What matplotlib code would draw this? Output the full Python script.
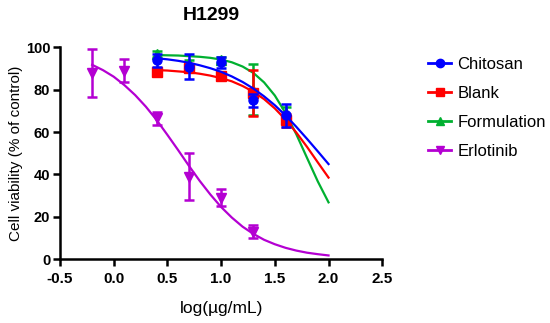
import matplotlib
matplotlib.use("Agg")
import matplotlib.pyplot as plt

plt.rcParams['font.family'] = ['Liberation Sans', 'DejaVu Sans']

# measured points
x_main = [0.4, 0.7, 1.0, 1.3, 1.6]
chitosan_y = [94, 91, 93, 75, 68]
chitosan_err = [3, 6, 2.5, 3, 5.5]
blank_y = [88.5, 90.5, 86.5, 78.5, 65.5]
blank_err = [1.5, 1.5, 1.5, 11, 3]
formulation_y = [97, 92.5, 94, 80, 69]
formulation_err = [1.5, 1.5, 1.5, 12, 3]

x_erl = [-0.2, 0.1, 0.4, 0.7, 1.0, 1.3]
erl_y = [88, 89, 66.5, 39, 29, 13]
erl_err = [11.5, 5.5, 3, 11, 4, 3]

# fitted curves
curve_x = [0.4, 0.5, 0.6, 0.7, 0.8, 0.9, 1.0, 1.1, 1.2, 1.3, 1.4, 1.5, 1.6, 1.7, 1.8, 1.9, 2.0]
chitosan_fit = [94.9, 94.4, 93.7, 92.8, 91.6, 90.2, 88.5, 86.3, 83.7, 80.6, 76.9, 72.7, 67.9, 62.5, 56.8, 50.9, 44.9]
blank_fit = [89.3, 89.1, 88.7, 88.3, 87.6, 86.7, 85.5, 84.0, 81.8, 79.1, 75.6, 71.2, 65.9, 59.8, 53.0, 45.7, 38.5]
formulation_fit = [96.4, 96.3, 96.2, 95.9, 95.6, 95.1, 94.3, 93.0, 91.0, 88.0, 83.5, 77.3, 69.0, 59.0, 47.8, 36.7, 26.8]
erl_curve_x = [-0.2, -0.1, 0.0, 0.1, 0.2, 0.3, 0.4, 0.5, 0.6, 0.7, 0.8, 0.9, 1.0, 1.1, 1.2, 1.3,
               1.4, 1.5, 1.6, 1.7, 1.8, 1.9, 2.0]
erl_fit = [91.8, 89.3, 86.2, 82.2, 77.5, 72.0, 65.7, 58.7, 51.5, 44.1, 37.0, 30.5, 24.6, 19.6, 15.3, 11.9,
           9.1, 7.0, 5.3, 4.0, 3.0, 2.3, 1.7]

x_ticks = [-0.5, 0.0, 0.5, 1.0, 1.5, 2.0, 2.5]
y_ticks = [0, 20, 40, 60, 80, 100]

fig = plt.figure(figsize=(5.5, 3.23), dpi=100)
ax = fig.add_axes([0.109, 0.198, 0.586, 0.655])

series = [
    ("Chitosan", "#0000ff", "o", x_main, chitosan_y, chitosan_err, curve_x, chitosan_fit, 5),
    ("Blank", "#ff0000", "s", x_main, blank_y, blank_err, curve_x, blank_fit, 4),
    ("Formulation", "#00b030", "^", x_main, formulation_y, formulation_err, curve_x, formulation_fit, 3),
    ("Erlotinib", "#b400d2", "v", x_erl, erl_y, erl_err, erl_curve_x, erl_fit, 2),
]
handles = []
for name, col, mk, xs, ys, es, cx, cy, z in series:
    ax.plot(cx, cy, color=col, lw=1.6, zorder=z)
    ax.errorbar(xs, ys, yerr=es, fmt=mk, color=col, ms=6.5, elinewidth=1.8,
                capsize=3.5, capthick=1.8, zorder=z + 0.5)
    h, = ax.plot([], [], color=col, marker=mk, lw=2, ms=6)
    handles.append((h, name))

ax.set_xlim(-0.5, 2.5)
ax.set_ylim(0, 100)
ax.set_xticks(x_ticks)
ax.set_xticklabels([f"{t:.1f}" for t in x_ticks])
ax.set_yticks(y_ticks)
for lab in ax.get_xticklabels():
    lab.set_fontweight('bold')
    lab.set_fontsize(11)
for lab in ax.get_yticklabels():
    lab.set_fontweight('bold')
    lab.set_fontsize(10.5)
ax.tick_params(axis='x', direction='out', length=5, width=1.8, pad=4)
ax.tick_params(axis='y', direction='out', length=5, width=1.8, pad=2)
for s in ['top', 'right']:
    ax.spines[s].set_visible(False)
for s in ['left', 'bottom']:
    ax.spines[s].set_linewidth(1.8)

fig.text(211 / 550, 1 - 15 / 323, "H1299", fontsize=14, fontweight='bold',
         ha='center', va='center')
ax.set_ylabel("Cell viability (% of control)", fontsize=11, labelpad=2)
ax.set_xlabel("log(µg/mL)", fontsize=12.5, labelpad=11)

fig.legend([h for h, _ in handles], [n for _, n in handles], loc='upper left',
           bbox_to_anchor=(428 / 550, 1 - 57 / 323), frameon=False, fontsize=12,
           borderpad=0, borderaxespad=0,
           handlelength=1.4, labelspacing=0.83, handletextpad=0.35)

fig.savefig("out.png", dpi=100)
